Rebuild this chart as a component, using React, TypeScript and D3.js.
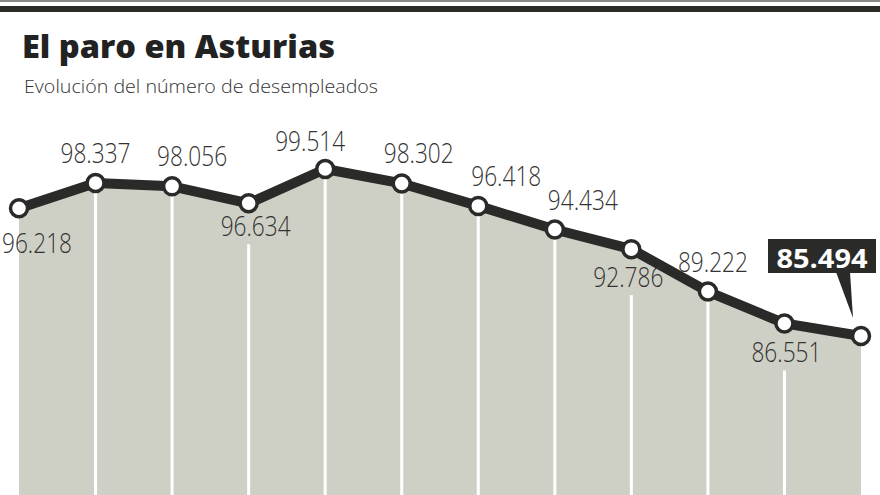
import React from "react";
import * as d3 from "d3";

const title = "El paro en Asturias";
const subtitle = "Evolución del número de desempleados";
const periods = ["P1", "P2", "P3", "P4", "P5", "P6", "P7", "P8", "P9", "P10", "P11", "P12"];
const unemployed = [96218, 98337, 98056, 96634, 99514, 98302, 96418, 94434, 92786, 89222, 86551, 85494];

// label layout: placement relative to each point
const labelSide = ["below", "above", "above", "below", "above", "above", "above", "above", "below", "above", "below", "callout"];
const labelDx = [18, 0, 20, 7, -15, 17, 28, 28, -3, 5, 2, 0];
const labelDy = [45, -20, -20, 33, -18, -20, -20, -20, 38, -20, 39, 0];

const W = 880;
const H = 495;

const locale = d3.formatLocale({ decimal: ",", thousands: ".", grouping: [3], currency: ["", " €"] });
const fmt = locale.format(",d");

export default function App() {
  const x = d3.scalePoint<string>().domain(periods).range([19, 861]);
  const ext = d3.extent(unemployed) as [number, number];
  const y = d3.scaleLinear().domain(ext).range([336, 169]);

  const pts = periods.map((p, i) => ({ x: x(p) as number, y: y(unemployed[i]), v: unemployed[i], i }));

  const line = d3.line<typeof pts[0]>().x((d) => d.x).y((d) => d.y);
  const area = d3.area<typeof pts[0]>().x((d) => d.x).y0(H).y1((d) => d.y);

  const labelFont = "'Open Sans', sans-serif";
  const last = pts[pts.length - 1];

  return (
    <svg width={W} height={H} style={{ position: "absolute", left: 0, top: 0, background: "#fff" }}>
      <rect x={0} y={0} width={W} height={2} fill="#8a8a88" />
      <rect x={0} y={6} width={W} height={6} fill="#2a2c28" />
      <text x={22} y={58} fontFamily="'Open Sans', sans-serif" fontWeight={800} fontSize={32} fill="#222" textLength={313} lengthAdjust="spacingAndGlyphs">
        {title}
      </text>
      <text x={24} y={93} fontFamily="'Open Sans', sans-serif" fontWeight={300} fontSize={18.5} fill="#333" textLength={354} lengthAdjust="spacingAndGlyphs">
        {subtitle}
      </text>

      <path d={area(pts) as string} fill="#cfd0c5" />

      {pts.slice(1, -1).map((d) => {
        const side = labelSide[d.i];
        const y0 = side === "below" ? d.y + labelDy[d.i] + 8 : d.y;
        return <line key={"v" + d.i} x1={d.x} x2={d.x} y1={y0} y2={H} stroke="#fff" strokeWidth={3} />;
      })}

      <path d={line(pts) as string} fill="none" stroke="#2a2b28" strokeWidth={10} strokeLinejoin="round" />

      {pts.map((d) => (
        <circle key={"c" + d.i} cx={d.x} cy={d.y} r={8.5} fill="#fff" stroke="#2a2b28" strokeWidth={3.5} />
      ))}

      {pts.map((d) =>
        labelSide[d.i] === "callout" ? null : (
          <text
            key={"t" + d.i}
            x={d.x + labelDx[d.i]}
            y={d.y + labelDy[d.i]}
            textAnchor="middle"
            fontFamily={labelFont}
            fontWeight={300}
            fontSize={28}
            fill="#333"
            textLength={70}
            lengthAdjust="spacingAndGlyphs"
          >
            {fmt(d.v)}
          </text>
        )
      )}

      <g>
        <rect x={last.x - 93} y={last.y - 97} width={108} height={34} fill="#2a2b28" />
        <path
          d={`M${last.x - 25},${last.y - 64} L${last.x - 11},${last.y - 64} L${last.x - 8},${last.y - 18} Z`}
          fill="#2a2b28"
        />
        <text
          x={last.x - 39}
          y={last.y - 68}
          textAnchor="middle"
          fontFamily="'Open Sans', sans-serif"
          fontWeight={700}
          fontSize={27}
          fill="#fff"
          textLength={91}
          lengthAdjust="spacingAndGlyphs"
        >
          {fmt(last.v)}
        </text>
      </g>
    </svg>
  );
}
